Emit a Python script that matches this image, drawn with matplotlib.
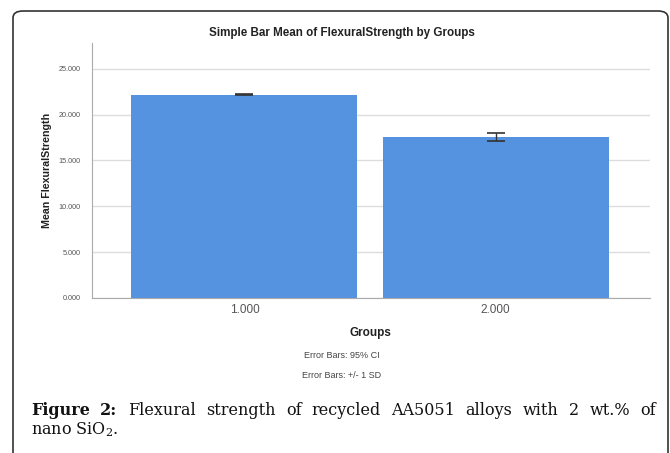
import matplotlib
matplotlib.use('Agg')
import matplotlib.pyplot as plt
from matplotlib.patches import FancyBboxPatch

# 数据
groups = [1.0, 2.0]
group_labels = ['1.000', '2.000']
means = [22.17, 17.52]
err_low = [0.05, 0.38]
err_high = [0.05, 0.45]
y_ticks = [0, 5, 10, 15, 20, 25]

plt.rcParams['font.family'] = ['Liberation Sans', 'DejaVu Sans']
plt.rcParams['mathtext.fontset'] = 'dejavuserif'

W, H = 670, 453
fig = plt.figure(figsize=(W / 100, H / 100), dpi=100)

# 外框 圆角
frame = FancyBboxPatch((13 / W, -0.1), (668 - 13) / W, 1.1 - 11 / H,
                       boxstyle='round,pad=0,rounding_size=0.015',
                       transform=fig.transFigure, fill=False,
                       edgecolor='#333333', linewidth=1.2)
fig.patches.append(frame)

ax = fig.add_axes([92 / W, 1 - 298 / H, (650 - 92) / W, (298 - 43) / H])
ax.bar(groups, means, width=0.9, color='#5592e0', edgecolor='none', zorder=2)
ax.errorbar(groups, means, yerr=[err_low, err_high], fmt='none',
            ecolor='#333333', elinewidth=1.0, capsize=6.5, capthick=1.2, zorder=3)

ax.set_xlim(0.393, 2.615)
ax.set_ylim(0, 27.8)
ax.set_yticks(y_ticks)
ax.set_yticklabels([f'{v:.3f}' for v in y_ticks], fontsize=5.2, color='#555555')
ax.set_xticks(groups)
ax.set_xticklabels(group_labels, fontsize=8.5, color='#555555')
ax.tick_params(axis='y', length=0, pad=8)
ax.tick_params(axis='x', length=0, pad=4)
ax.grid(axis='y', color='#dddddd', linewidth=1.0, zorder=0)
for s in ['top', 'right']:
    ax.spines[s].set_visible(False)
ax.spines['left'].set_color('#aaaaaa')
ax.spines['bottom'].set_color('#aaaaaa')

ax.set_ylabel('Mean FlexuralStrength', fontsize=7.7, fontweight='bold', labelpad=5,
              color='#222222')

fig.text(342 / W, 1 - 33 / H, 'Simple Bar Mean of FlexuralStrength by Groups',
         ha='center', va='center', fontsize=8.4, fontweight='bold', color='#222222')
fig.text(370 / W, 1 - 333 / H, 'Groups', ha='center', va='center',
         fontsize=8.5, fontweight='bold', color='#222222')
fig.text(342 / W, 1 - 356 / H, 'Error Bars: 95% CI', ha='center', va='center',
         fontsize=6.5, color='#444444')
fig.text(342 / W, 1 - 375 / H, 'Error Bars: +/- 1 SD', ha='center', va='center',
         fontsize=6.5, color='#444444')

# 图注 两端对齐
fig.canvas.draw()
r = fig.canvas.get_renderer()
words = [('Figure', 'bold'), ('2:', 'bold'), ('Flexural', 'normal'), ('strength', 'normal'),
         ('of', 'normal'), ('recycled', 'normal'), ('AA5051', 'normal'), ('alloys', 'normal'),
         ('with', 'normal'), ('2', 'normal'), ('wt.%', 'normal'), ('of', 'normal')]
x0, x1 = 31, 656
y1 = H - 415
cap_size = 11.5
arts = []
for w, fw in words:
    t = fig.text(0, y1 / H, w, fontsize=cap_size, fontweight=fw,
                 family='DejaVu Serif', color='#111111', va='baseline')
    arts.append(t)
widths = [t.get_window_extent(r).width for t in arts]
gap = (x1 - x0 - sum(widths)) / (len(words) - 1)
x = x0
for t, w in zip(arts, widths):
    t.set_x(x / W)
    x += w + gap
fig.text(x0 / W, (H - 434) / H, r'nano SiO$_2$.', fontsize=cap_size,
         family='DejaVu Serif', color='#111111', va='baseline')

fig.savefig('out.png', dpi=100)
